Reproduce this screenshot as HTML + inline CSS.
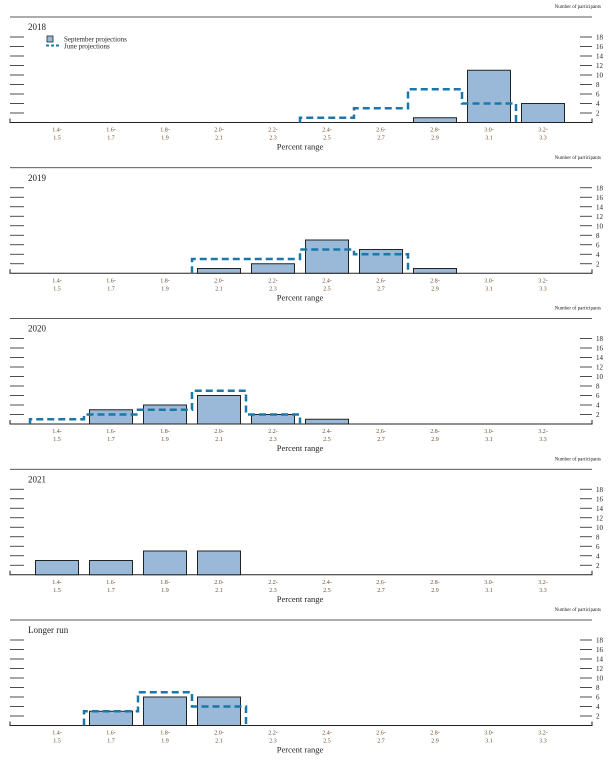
<!DOCTYPE html>
<html><head><meta charset="utf-8"><style>
body{margin:0;background:#fff;}
svg{display:block;font-family:"Liberation Serif",serif;}
</style></head><body>
<svg id="c" width="612" height="764" viewBox="0 0 612 764"></svg>
<script>
const categories=["1.4-|1.5","1.6-|1.7","1.8-|1.9","2.0-|2.1","2.2-|2.3","2.4-|2.5","2.6-|2.7","2.8-|2.9","3.0-|3.1","3.2-|3.3"];
const panelTitles=["2018","2019","2020","2021","Longer run"];
const sep2018=[0,0,0,0,0,0,0,1,11,4];
const sep2019=[0,0,0,1,2,7,5,1,0,0];
const sep2020=[0,3,4,6,2,1,0,0,0,0];
const sep2021=[3,3,5,5,0,0,0,0,0,0];
const sepLR=[0,3,6,6,0,0,0,0,0,0];
const jun2018=[0,0,0,0,0,1,3,7,4,0];
const jun2019=[0,0,0,3,3,5,4,0,0,0];
const jun2020=[1,2,3,7,2,0,0,0,0,0];
const jun2021=[0,0,0,0,0,0,0,0,0,0];
const junLR=[0,3,7,4,0,0,0,0,0,0];
const yTicks=[2,4,6,8,10,12,14,16,18];
const sepSeries=[sep2018,sep2019,sep2020,sep2021,sepLR];
const junSeries=[jun2018,jun2019,jun2020,jun2021,junLR];

const NS="http://www.w3.org/2000/svg";
const svg=document.getElementById('c');
function mk(t,a,p){const e=document.createElementNS(NS,t);for(const k in a)e.setAttribute(k,a[k]);(p||svg).appendChild(e);return e;}
const x0=57,dx=54,bw=43,ppu=4.75;
const xc=i=>x0+i*dx;
for(let p=0;p<5;p++){
  const top=17+p*150.75, base=top+105.5;
  const y=v=>base-v*ppu;
  const g=mk('g',{});
  
  
  let t=mk('text',{x:601,y:top-9,'font-size':5,'text-anchor':'end',fill:'#222'},g);t.textContent='Number of participants';
  
  let l=mk('line',{x1:10,x2:592,y1:top,y2:top,stroke:'#222','stroke-width':0.8},g);
  
  t=mk('text',{x:28,y:top+13,'font-size':9,fill:'#222'},g);t.textContent=panelTitles[p];
  
  yTicks.forEach(v=>{
    mk('line',{x1:10,x2:24,y1:y(v),y2:y(v),stroke:'#222','stroke-width':0.8},g);
    mk('line',{x1:580,x2:592,y1:y(v),y2:y(v),stroke:'#222','stroke-width':0.8},g);
    const tt=mk('text',{x:596,y:y(v)+2.5,'font-size':7,fill:'#222'},g);tt.textContent=v;
    
  });
  mk('path',{d:`M10 ${base-4}V${base}H592V${base-4}`,fill:'none',stroke:'#222','stroke-width':1},g);
  sepSeries[p].forEach((v,i)=>{
    if(v<=0)return;
    const r=mk('rect',{x:xc(i)-bw/2,y:y(v),width:bw,height:v*ppu,fill:'#9ab8d8',stroke:'#222','stroke-width':1},g);
    
  });
  const jv=junSeries[p];
  let d='',started=false;
  for(let i=0;i<jv.length;i++){
    const v=jv[i],L=xc(i)-dx/2,R=xc(i)+dx/2;
    if(v>0){
      if(!started){d+=`M${L} ${base}V${y(v)}`;started=true;}else d+=`V${y(v)}`;
      d+=`H${R}`;
    } else if(started){d+=`V${base}`;started=false;}
  }
  if(started)d+=`V${base}`;
  if(d){const pth=mk('path',{d:d,fill:'none',stroke:'#1a78a8','stroke-width':2.5,'stroke-dasharray':'7,4'},g);
    }
  categories.forEach((c,i)=>{
    const [a,b]=c.split('|');
    let t1=mk('text',{x:xc(i),y:base+9,'font-size':6,'text-anchor':'middle',fill:'#6b4a2a'},g);t1.textContent=a;
    
    let t2=mk('text',{x:xc(i),y:base+17,'font-size':6,'text-anchor':'middle',fill:'#6b4a2a'},g);t2.textContent=b;
    
  });
  t=mk('text',{x:300,y:base+27,'font-size':8.5,'text-anchor':'middle',fill:'#222'},g);t.textContent='Percent range';
  
  if(p===0){
    const lg=mk('g',{},g);
    mk('rect',{x:47,y:36,width:6,height:6,fill:'#9ab8d8',stroke:'#222','stroke-width':0.8},lg);
    let a=mk('text',{x:64,y:41.5,'font-size':7,fill:'#222'},lg);a.textContent='September projections';
    mk('line',{x1:46,x2:59,y1:45.5,y2:45.5,stroke:'#1a78a8','stroke-width':2,'stroke-dasharray':'3,2'},lg);
    a=mk('text',{x:64,y:48.5,'font-size':7,fill:'#222'},lg);a.textContent='June projections';
  }
}
</script>
</body></html>
